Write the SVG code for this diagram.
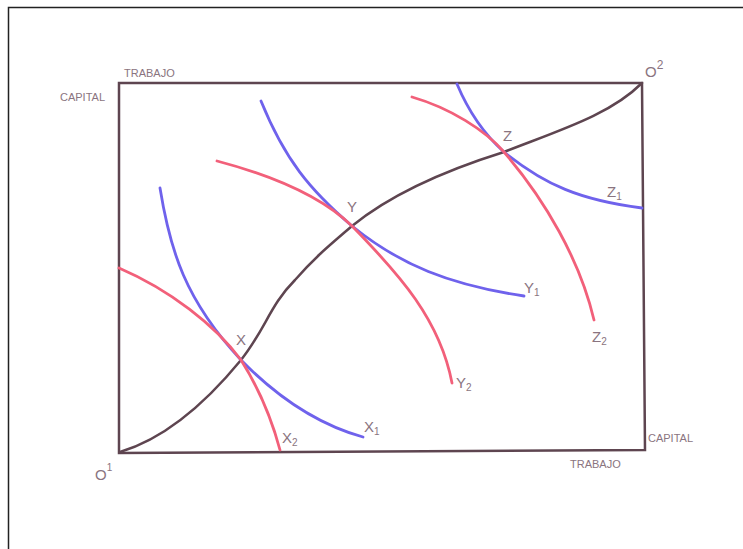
<svg xmlns="http://www.w3.org/2000/svg" width="743" height="549" viewBox="0 0 743 549">
<style>
.frame{fill:none;stroke:#222;stroke-width:1.5}
.box{fill:none;stroke:#5e4550;stroke-width:2.5}
.cc{fill:none;stroke:#5e4550;stroke-width:2.5;stroke-linecap:round}
.blue{fill:none;stroke:#6f62ec;stroke-width:2.8;stroke-linecap:round}
.red{fill:none;stroke:#f2607a;stroke-width:2.8;stroke-linecap:round}
.lbl{font-family:"Liberation Sans",sans-serif;fill:#8a7480;font-size:15px}
.sm{font-family:"Liberation Sans",sans-serif;fill:#8a7480;font-size:11px}
.sub{font-size:10px}
</style>
<rect x="0" y="0" width="743" height="549" fill="#fff"/>
<path class="frame" d="M8.5,549 V7.5 H743"/>
<g id="box">
<path class="box" d="M119,83 H642 L645,450 L119,453 Z"/>
</g>
<g id="connectors">
<path id="contract" class="cc" d="M120,452 C160,440 200,410 241,360 C265,330 270,305 295,280 C315,257 330,245 352,226 C390,195 440,172 504,152 C560,130 610,115 642,83"/>
<path id="X1" class="blue" d="M160,188 C170,250 185,300 241,360 C280,400 320,425 363,437"/>
<path id="Y1" class="blue" d="M261,101 C285,160 310,190 352,226 C400,265 450,285 524,296"/>
<path id="Z1" class="blue" d="M457,84 C470,115 485,135 504,152 C545,185 580,200 642,208"/>
<path id="X2" class="red" d="M119,268 C170,290 215,325 241,360 C260,390 272,420 280,450"/>
<path id="Y2" class="red" d="M217,161 C270,175 320,195 352,226 C400,275 440,320 452,383"/>
<path id="Z2" class="red" d="M412,97 C450,108 485,130 504,152 C545,200 580,260 594,320"/>
</g>
<g id="labels">
<text class="sm" x="60" y="101">CAPITAL</text>
<text class="sm" x="124" y="77">TRABAJO</text>
<text class="sm" x="648" y="442">CAPITAL</text>
<text class="sm" x="570" y="468">TRABAJO</text>
<text class="lbl" x="95" y="480" font-size="18">O<tspan class="sub" dy="-9" font-size="12">1</tspan></text>
<text class="lbl" x="645" y="77" font-size="18">O<tspan dy="-8" font-size="12">2</tspan></text>
<text class="lbl" x="236" y="345">X</text>
<text class="lbl" x="364" y="432">X<tspan class="sub" dy="3">1</tspan></text>
<text class="lbl" x="282" y="443">X<tspan class="sub" dy="3">2</tspan></text>
<text class="lbl" x="347" y="212">Y</text>
<text class="lbl" x="524" y="293">Y<tspan class="sub" dy="3">1</tspan></text>
<text class="lbl" x="456" y="388">Y<tspan class="sub" dy="3">2</tspan></text>
<text class="lbl" x="503" y="141">Z</text>
<text class="lbl" x="607" y="197">Z<tspan class="sub" dy="3">1</tspan></text>
<text class="lbl" x="592" y="342">Z<tspan class="sub" dy="3">2</tspan></text>
</g>
</svg>
